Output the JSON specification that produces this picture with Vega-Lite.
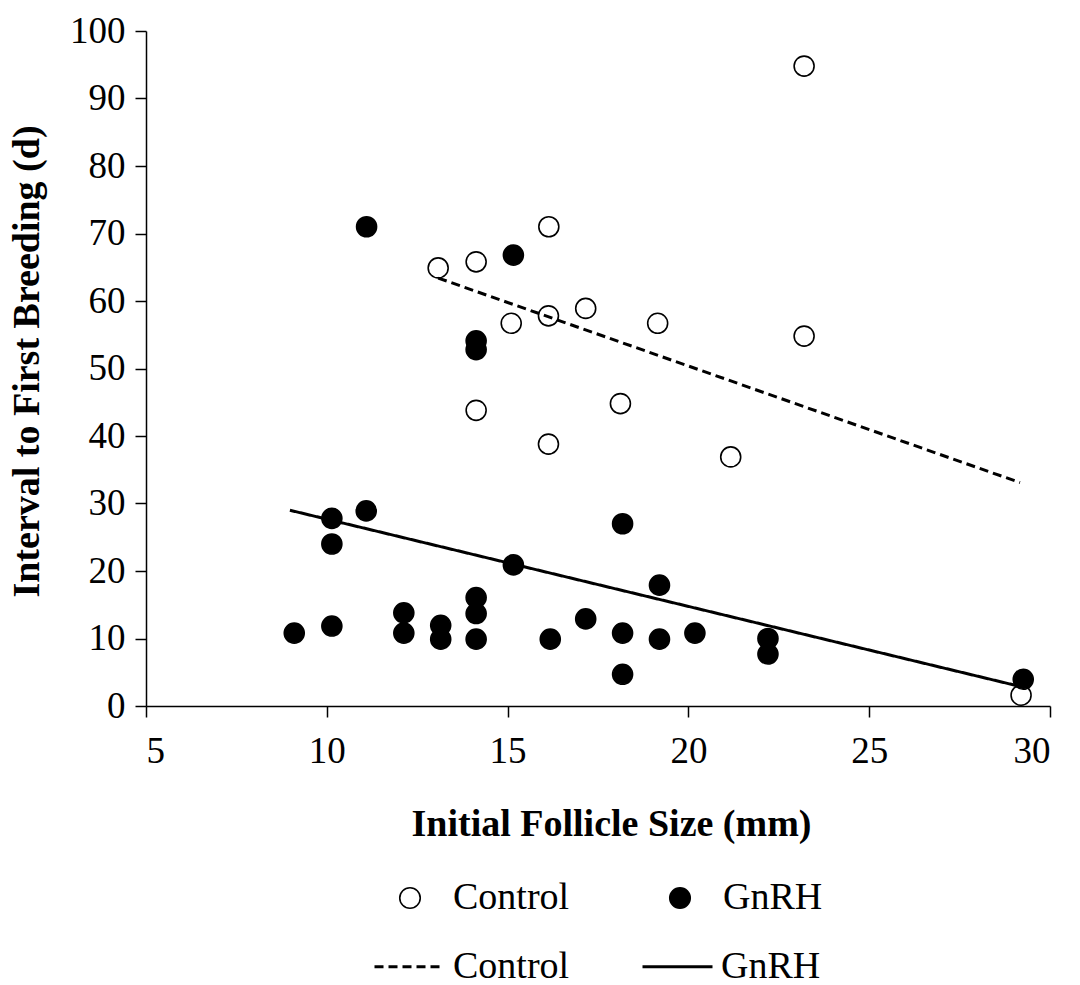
{
  "$schema": "https://vega.github.io/schema/vega-lite/v6.json",
  "width": 904,
  "height": 675,
  "autosize": {"type": "none"},
  "padding": {"left": 146, "top": 31, "right": 30, "bottom": 279},
  "background": "white",
  "config": {
    "view": {"stroke": null},
    "font": "Liberation Serif",
    "axis": {
      "grid": false,
      "domainColor": "black",
      "domainWidth": 1.5,
      "tickColor": "black",
      "tickWidth": 1.5,
      "tickSize": 11,
      "labelFont": "Liberation Serif",
      "labelFontSize": 37,
      "labelColor": "black",
      "titleFont": "Liberation Serif",
      "titleFontSize": 38,
      "titleFontWeight": "bold",
      "titleColor": "black"
    },
    "legend": {
      "labelFont": "Liberation Serif",
      "labelFontSize": 38,
      "labelColor": "black",
      "padding": 0
    }
  },
  "datasets": {
    "pts": [
      {"group": "Control", "size": 13.08, "days": 64.9},
      {"group": "Control", "size": 14.13, "days": 65.8},
      {"group": "Control", "size": 16.14, "days": 71.0},
      {"group": "Control", "size": 23.2, "days": 94.8},
      {"group": "Control", "size": 15.1, "days": 56.7},
      {"group": "Control", "size": 16.13, "days": 57.8},
      {"group": "Control", "size": 17.16, "days": 58.9},
      {"group": "Control", "size": 19.15, "days": 56.7},
      {"group": "Control", "size": 23.2, "days": 54.8},
      {"group": "Control", "size": 14.13, "days": 43.8},
      {"group": "Control", "size": 18.12, "days": 44.8},
      {"group": "Control", "size": 16.13, "days": 38.8},
      {"group": "Control", "size": 21.17, "days": 36.9},
      {"group": "Control", "size": 29.2, "days": 1.6},
      {"group": "GnRH", "size": 11.1, "days": 71.0},
      {"group": "GnRH", "size": 15.16, "days": 66.8},
      {"group": "GnRH", "size": 14.13, "days": 54.1},
      {"group": "GnRH", "size": 14.13, "days": 52.8},
      {"group": "GnRH", "size": 10.14, "days": 27.8},
      {"group": "GnRH", "size": 11.09, "days": 28.9},
      {"group": "GnRH", "size": 10.14, "days": 24.0},
      {"group": "GnRH", "size": 15.16, "days": 20.9},
      {"group": "GnRH", "size": 18.18, "days": 27.0},
      {"group": "GnRH", "size": 19.2, "days": 17.9},
      {"group": "GnRH", "size": 14.13, "days": 16.06},
      {"group": "GnRH", "size": 14.13, "days": 13.7},
      {"group": "GnRH", "size": 12.13, "days": 13.8},
      {"group": "GnRH", "size": 9.1, "days": 10.8},
      {"group": "GnRH", "size": 10.14, "days": 11.85},
      {"group": "GnRH", "size": 12.13, "days": 10.8},
      {"group": "GnRH", "size": 13.15, "days": 11.95},
      {"group": "GnRH", "size": 13.15, "days": 9.9},
      {"group": "GnRH", "size": 14.13, "days": 9.9},
      {"group": "GnRH", "size": 16.18, "days": 9.9},
      {"group": "GnRH", "size": 17.16, "days": 12.9},
      {"group": "GnRH", "size": 18.18, "days": 10.8},
      {"group": "GnRH", "size": 18.18, "days": 4.7},
      {"group": "GnRH", "size": 19.2, "days": 9.9},
      {"group": "GnRH", "size": 20.18, "days": 10.8},
      {"group": "GnRH", "size": 22.2, "days": 10.0},
      {"group": "GnRH", "size": 22.2, "days": 7.7},
      {"group": "GnRH", "size": 29.26, "days": 3.96}
    ],
    "trend": [
      {"series": "Control line", "size": 13.08, "days": 63.4},
      {"series": "Control line", "size": 29.17, "days": 33.1},
      {"series": "GnRH line", "size": 8.98, "days": 29.0},
      {"series": "GnRH line", "size": 29.17, "days": 2.9}
    ]
  },
  "layer": [
    {
      "data": {"name": "trend"},
      "mark": {"type": "line", "color": "black", "strokeWidth": 3},
      "encoding": {
        "x": {"field": "size", "type": "quantitative"},
        "y": {"field": "days", "type": "quantitative"},
        "strokeDash": {
          "field": "series",
          "type": "nominal",
          "scale": {"domain": ["Control line", "GnRH line"], "range": [[9, 5], [1, 0]]},
          "legend": {
            "title": null,
            "orient": "none",
            "direction": "horizontal",
            "legendX": 227,
            "legendY": 899,
            "symbolType": "stroke",
            "symbolSize": 4900,
            "symbolStrokeColor": "black",
            "symbolStrokeWidth": 3,
            "labelOffset": 7,
            "columnPadding": 66,
            "labelExpr": "replace(datum.label, ' line', '')"
          }
        }
      }
    },
    {
      "data": {"name": "pts"},
      "mark": {"type": "point", "shape": "circle", "filled": true, "size": 400, "stroke": "black", "strokeWidth": 1.6, "opacity": 1},
      "encoding": {
        "x": {
          "field": "size",
          "type": "quantitative",
          "scale": {"domain": [5, 30], "nice": false, "zero": false},
          "axis": {"title": "Initial Follicle Size (mm)", "values": [5, 10, 15, 20, 25, 30], "labelPadding": 16, "titleY": 129, "titleBaseline": "alphabetic", "titleX": 465}
        },
        "y": {
          "field": "days",
          "type": "quantitative",
          "scale": {"domain": [0, 100], "nice": false},
          "axis": {"title": "Interval to First  Breeding (d)", "values": [0, 10, 20, 30, 40, 50, 60, 70, 80, 90, 100], "labelPadding": 10, "titleX": -108, "titleY": 330, "titleBaseline": "alphabetic"}
        },
        "fill": {
          "field": "group",
          "type": "nominal",
          "scale": {"domain": ["Control", "GnRH"], "range": ["rgba(255,255,255,0)", "black"]},
          "legend": {
            "title": null,
            "orient": "none",
            "direction": "horizontal",
            "legendX": 245,
            "legendY": 848,
            "symbolType": "circle",
            "symbolSize": 420,
            "symbolStrokeColor": "black",
            "symbolStrokeWidth": 1.6,
            "labelOffset": 24,
            "columnPadding": 91
          }
        }
      }
    }
  ]
}
